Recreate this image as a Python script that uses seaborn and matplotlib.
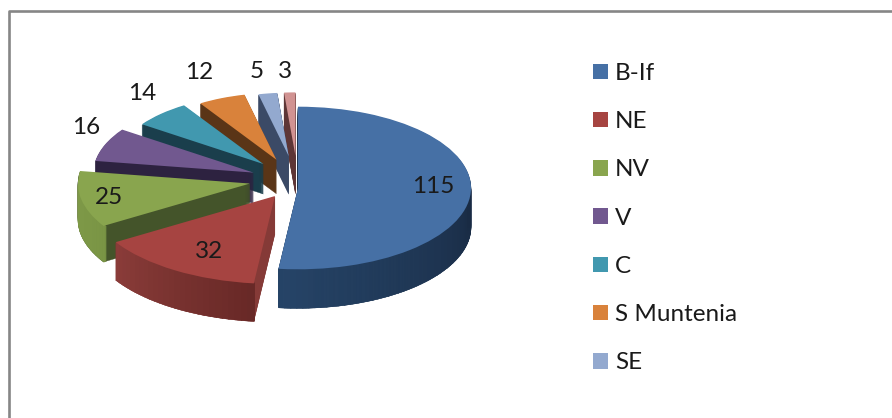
import numpy as np
import seaborn as sns
import matplotlib
matplotlib.use("Agg")
import matplotlib.pyplot as plt
from matplotlib.patches import Wedge, Patch

# Data
regions = ["B-If", "NE", "NV", "V", "C", "S Muntenia", "SE"]
counts = [115, 32, 25, 16, 14, 12, 5, 3]

# Slice styling
top_colors = ["#4670A5", "#A64441", "#89A54E", "#71588F", "#4198AF", "#D9823B", "#93A9CF", "#D19392"]
cut_colors = ["#1F3653", "#853A37", "#44542A", "#2D2240", "#1A3E4C", "#5A3517", "#3B4A66", "#5E3636"]
rim_left = ["#264467", "#8A3C39", "#7F9A48", "#2D2240", "#1A3E4C", "#5A3517", "#3B4A66", "#5E3636"]
rim_right = ["#192B44", "#672826", "#7A9545", "#2D2240", "#1A3E4C", "#5A3517", "#3B4A66", "#5E3636"]
explode = [0, 43, 49, 48, 50, 56, 60, 60]
radii = [173, 187, 172, 160, 148, 142, 135, 135]
depths = [39, 38, 36, 30, 30, 34, 38, 38]
nudge = [7, -2, -2, 0, 0, 3, 3, 3]
draw_order = [7, 6, 5, 4, 3, 2, 1, 0]

squash = 0.47
W, H = 892, 418

sns.set_theme(style="white")
plt.rcParams["font.family"] = ["Lato", "DejaVu Sans"]
palette = sns.color_palette(top_colors)

fig = plt.figure(figsize=(W / 100, H / 100), dpi=100)
ax = fig.add_axes([0, 0, 1, 1])

cx, cy = 298, (H - 181) / squash
wedges, _ = ax.pie(counts, colors=palette, startangle=90, counterclock=False,
                   explode=explode, center=(cx, cy), radius=173,
                   wedgeprops={"linewidth": 0})
ax.set_aspect("auto")
ax.set_xlim(0, W)
ax.set_ylim(0, H / squash)
ax.axis("off")


def blend(c1, c2, t):
    a = np.array(matplotlib.colors.to_rgb(c1))
    b = np.array(matplotlib.colors.to_rgb(c2))
    return tuple(a + (b - a) * t)


# extrude each slice downwards, back slices first
for z, i in enumerate(draw_order):
    w = wedges[i]
    w.set_radius(radii[i])
    w.set_zorder(z * 10 + 5)
    x, y = w.center
    y = y - nudge[i] / squash
    w.set_center((x, y))
    t1, t2 = w.theta1, w.theta2
    for d in range(depths[i], 0, -1):
        yy = y - d / squash
        ax.add_patch(Wedge((x, yy), radii[i], t1, t2, fc=cut_colors[i], ec=cut_colors[i], lw=0.3, zorder=z * 10))
    # rim only on the front half of the circle (pie angles run negative here)
    lo, hi = max(t1, -180), min(t2, 0)
    if hi > lo:
        angles = np.arange(lo, hi, 2.0)
        for a in angles:
            b = min(a + 2.0, hi)
            # colour runs left to right along the rim
            t = (a - lo) / max(hi - lo, 1)
            col = blend(rim_left[i], rim_right[i], t)
            for d in range(depths[i], 0, -1):
                yy = y - d / squash
                ax.add_patch(Wedge((x, yy), radii[i], a, b + 0.2, width=3, fc=col, ec=col, lw=0.3, zorder=z * 10 + 1))

# value labels
label_xy = [(433, 186), (209, 251), (109, 197), (86, 127), (142, 94), (199, 72), (257, 71), (285, 71)]
for v, (lx, ly) in zip(counts, label_xy):
    ax.text(lx, (H - ly) / squash, str(v), ha="center", va="center", fontsize=17.5, color="#1a1a1a", zorder=200)

# chart frame, runs off the right and bottom of the crop
ax.plot([8.5, 8.5, W], [0, (H - 10.5) / squash, (H - 10.5) / squash], color="#868686", lw=1.9, zorder=300, clip_on=True)

# legend, the last slice has no entry in the picture
handles = [Patch(facecolor=palette[i], edgecolor="none", label=regions[i]) for i in range(7)]
ax.legend(handles=handles, loc="upper left", bbox_to_anchor=(593 / W, 1 - 63 / H), frameon=False,
          fontsize=17.5, handlelength=0.61, handleheight=0.61, handletextpad=0.3, labelspacing=1.12,
          labelcolor="#1a1a1a", borderpad=0, borderaxespad=0)

fig.savefig("out.png", dpi=100)
